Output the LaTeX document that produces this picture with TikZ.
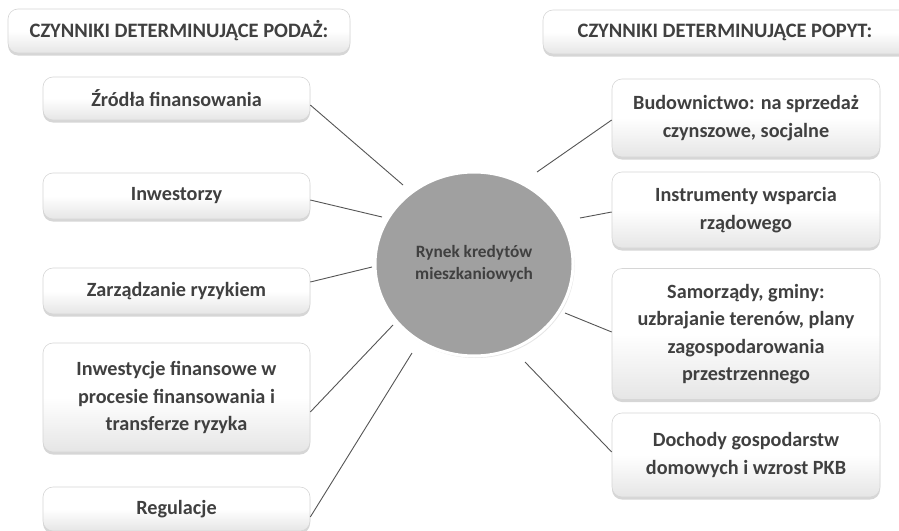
\documentclass[tikz,border=0pt]{standalone}
\usepackage{fontspec}
\setmainfont{Carlito}
\usetikzlibrary{shapes.geometric,shadows,calc}
\definecolor{txt}{HTML}{404040}
\definecolor{hub}{HTML}{A0A0A0}
\definecolor{wire}{HTML}{555555}
\definecolor{rim}{HTML}{D6D6D6}
\tikzset{
  factor/.style={draw=rim, line width=0.6pt, rounded corners=10pt,
    top color=white, bottom color=black!10, middle color=white,
    drop shadow={shadow xshift=0pt, shadow yshift=-2.5pt, opacity=0.35, fill=black!45},
    inner sep=0pt, align=center, text=txt,
    font=\fontsize{20.2}{27.3}\selectfont\bfseries},
  header/.style={factor, font=\fontsize{20.5}{22}\selectfont\bfseries},
  hubnode/.style={ellipse, fill=hub, draw=white, line width=3pt, inner sep=0pt,
    drop shadow={shadow xshift=1.5pt, shadow yshift=-2pt, opacity=0.25, fill=black!40},
    align=center, text=txt, font=\fontsize{17.3}{22.5}\selectfont\bfseries},
  link/.style={draw=wire, line width=0.9pt}
}
\begin{document}
\begin{tikzpicture}[x=1pt,y=-1pt]
\useasboundingbox (0,0) rectangle (899,530);
\fill[white] (0,0) rectangle (899,530);

% column headers (the right one runs past the page edge)
\node[header, minimum width=342pt, minimum height=44pt] (hl) at (179,31) {CZYNNIKI DETERMINUJĄCE PODAŻ:};
\node[header, minimum width=390pt, minimum height=44pt] (hr) at (738,32) {\hspace*{-26pt}CZYNNIKI DETERMINUJĄCE POPYT:};

% central hub
\node[hubnode, minimum width=198pt, minimum height=184pt] (c) at (474,264) {Rynek kredytów\\mieszkaniowych};

% supply-side factors
\node[factor, minimum width=267pt, minimum height=43pt] (l1) at (176.5,98.5) {Źródła finansowania};
\node[factor, minimum width=267pt, minimum height=46pt] (l2) at (176.5,196) {Inwestorzy};
\node[factor, minimum width=267pt, minimum height=46pt] (l3) at (176.5,291) {Zarządzanie ryzykiem};
\node[factor, minimum width=267pt, minimum height=109pt] (l4) at (176.5,397.5) {Inwestycje finansowe w\\procesie finansowania i\\transferze ryzyka};
\node[factor, minimum width=267pt, minimum height=44pt] (l5) at (176.5,509) {Regulacje};

% demand-side factors
\node[factor, minimum width=268pt, minimum height=78pt] (r1) at (746,118) {Budownictwo: na sprzedaż\\czynszowe, socjalne};
\node[factor, minimum width=268pt, minimum height=76pt] (r2) at (746,210) {Instrumenty wsparcia\\rządowego};
\node[factor, minimum width=268pt, minimum height=131pt] (r3) at (746,334) {Samorządy, gminy:\\uzbrajanie terenów, plany\\zagospodarowania\\przestrzennego};
\node[factor, minimum width=268pt, minimum height=84pt] (r4) at (746,455) {Dochody gospodarstw\\domowych i wzrost PKB};

% connector ends just outside the hub
\coordinate (e1) at (403,185);
\coordinate (e2) at (382,217);
\coordinate (e3) at (372,267);
\coordinate (e4) at (393,325);
\coordinate (e5) at (412,353);
\coordinate (e6) at (537,172);
\coordinate (e7) at (580,218);
\coordinate (e8) at (565,313);
\coordinate (e9) at (525,362);

\draw[link] ($(l1.east)+(0,6.5)$) -- (e1);
\draw[link] ($(l2.east)+(0,4)$) -- (e2);
\draw[link] ($(l3.east)+(0,-9)$) -- (e3);
\draw[link] ($(l4.east)+(0,14.5)$) -- (e4);
\draw[link] ($(l5.east)+(0,8)$) -- (e5);
\draw[link] ($(r1.west)+(0,2)$) -- (e6);
\draw[link] ($(r2.west)+(0,2)$) -- (e7);
\draw[link] ($(r3.west)+(0,-2)$) -- (e8);
\draw[link] ($(r4.west)+(0,-3)$) -- (e9);
\end{tikzpicture}
\end{document}
